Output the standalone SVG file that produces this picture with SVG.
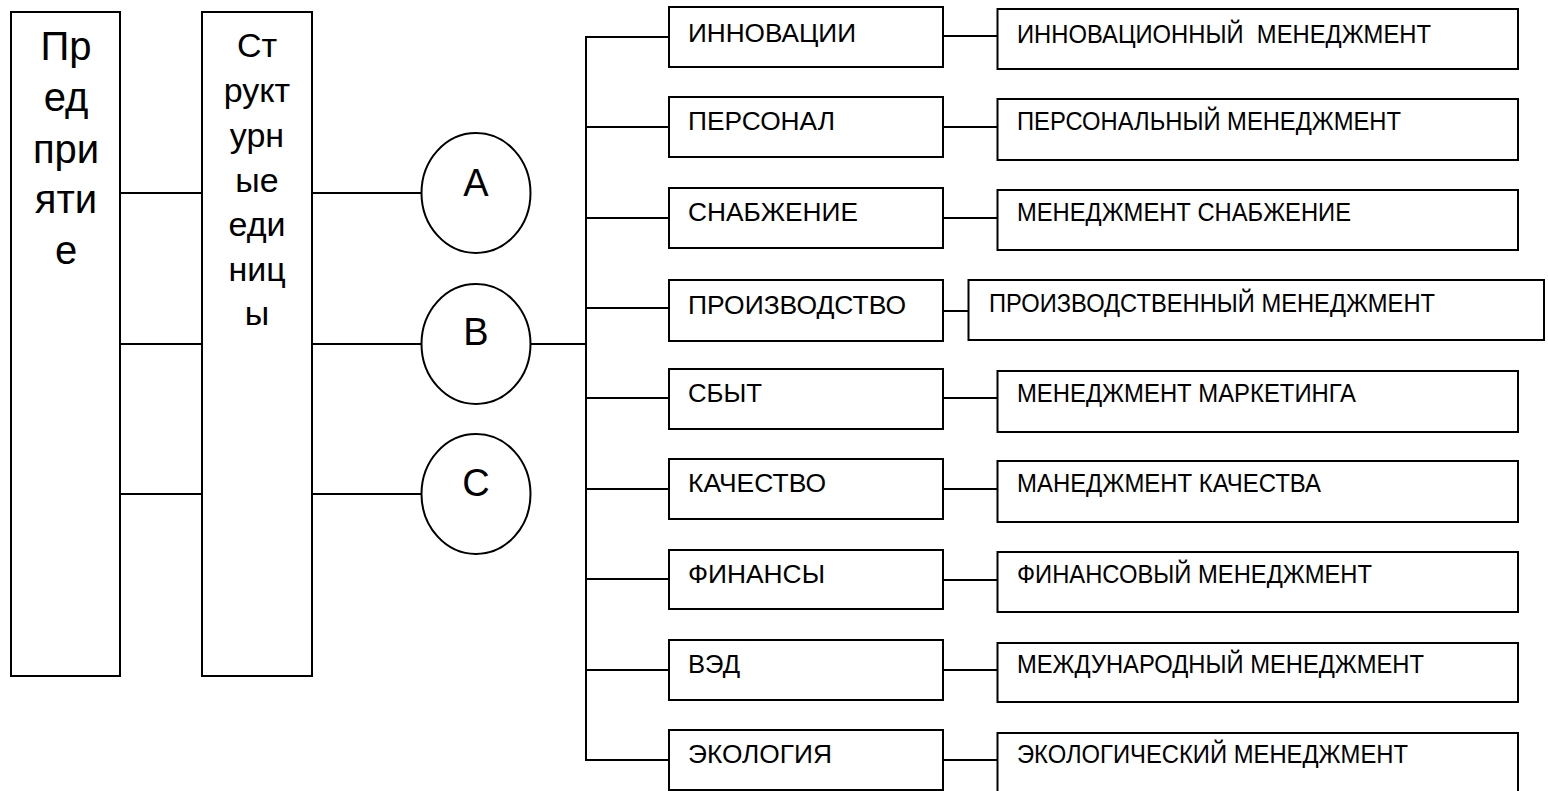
<svg xmlns="http://www.w3.org/2000/svg" width="1548" height="791" viewBox="0 0 1548 791">
  <style>
    .box { fill: #ffffff; stroke: #000000; stroke-width: 2; }
    .ell { fill: #ffffff; stroke: #000000; stroke-width: 2; }
    .ln { stroke: #000000; stroke-width: 2; fill: none; }
    .t { font-family: "Liberation Sans", Arial, sans-serif; fill: #000000; }
    .big { font-size: 40px; text-anchor: middle; }
    .mid { font-size: 34px; text-anchor: middle; }
    .circ { font-size: 38px; text-anchor: middle; }
    .lab { font-size: 26px; }
    .lab2 { font-size: 25px; }
  </style>
  <rect width="1548" height="791" fill="#ffffff"/>

  <!-- connectors -->
  <g id="connectors">
    <line class="ln" x1="120" y1="193" x2="202" y2="193"/>
    <line class="ln" x1="120" y1="344" x2="202" y2="344"/>
    <line class="ln" x1="120" y1="494" x2="202" y2="494"/>
    <line class="ln" x1="312" y1="193" x2="422" y2="193"/>
    <line class="ln" x1="312" y1="344" x2="422" y2="344"/>
    <line class="ln" x1="312" y1="494" x2="422" y2="494"/>
    <line class="ln" x1="531" y1="344" x2="586" y2="344"/>
    <!-- trunk -->
    <line class="ln" x1="586" y1="36" x2="586" y2="761"/>
    <!-- branches to functions -->
    <line class="ln" x1="585" y1="37" x2="669" y2="37"/>
    <line class="ln" x1="585" y1="127" x2="669" y2="127"/>
    <line class="ln" x1="585" y1="218" x2="669" y2="218"/>
    <line class="ln" x1="585" y1="308" x2="669" y2="308"/>
    <line class="ln" x1="585" y1="398" x2="669" y2="398"/>
    <line class="ln" x1="585" y1="489" x2="669" y2="489"/>
    <line class="ln" x1="585" y1="579" x2="669" y2="579"/>
    <line class="ln" x1="585" y1="670" x2="669" y2="670"/>
    <line class="ln" x1="585" y1="760" x2="669" y2="760"/>
    <!-- function to management type -->
    <line class="ln" x1="943" y1="36" x2="997" y2="36"/>
    <line class="ln" x1="943" y1="127" x2="997" y2="127"/>
    <line class="ln" x1="943" y1="218" x2="997" y2="218"/>
    <line class="ln" x1="943" y1="311" x2="968" y2="311"/>
    <line class="ln" x1="943" y1="398" x2="997" y2="398"/>
    <line class="ln" x1="943" y1="489" x2="997" y2="489"/>
    <line class="ln" x1="943" y1="580" x2="997" y2="580"/>
    <line class="ln" x1="943" y1="670" x2="997" y2="670"/>
    <line class="ln" x1="943" y1="760" x2="997" y2="760"/>
  </g>

  <!-- enterprise -->
  <g id="node-enterprise">
    <rect class="box" x="11" y="12" width="109" height="664"/>
    <text class="t big" x="66" y="60">Пр</text>
    <text class="t big" x="66" y="111">ед</text>
    <text class="t big" x="66" y="163">при</text>
    <text class="t big" x="66" y="213">яти</text>
    <text class="t big" x="66" y="264">е</text>
  </g>

  <!-- structural units -->
  <g id="node-units">
    <rect class="box" x="202" y="12" width="110" height="664"/>
    <text class="t mid" x="257" y="57">Ст</text>
    <text class="t mid" x="257" y="102">рукт</text>
    <text class="t mid" x="257" y="147">урн</text>
    <text class="t mid" x="257" y="192">ые</text>
    <text class="t mid" x="257" y="236">еди</text>
    <text class="t mid" x="257" y="281">ниц</text>
    <text class="t mid" x="257" y="325">ы</text>
  </g>

  <!-- units A, B, C -->
  <g id="node-a">
    <ellipse class="ell" cx="476" cy="193" rx="54.5" ry="60"/>
    <text class="t circ" x="476" y="196">A</text>
  </g>
  <g id="node-b">
    <ellipse class="ell" cx="476" cy="344" rx="54.5" ry="60"/>
    <text class="t circ" x="476" y="345">B</text>
  </g>
  <g id="node-c">
    <ellipse class="ell" cx="476" cy="494" rx="54.5" ry="60"/>
    <text class="t circ" x="476" y="496">C</text>
  </g>

  <!-- functions -->
  <g id="node-innovation">
    <rect class="box" x="669" y="7" width="274" height="60"/>
    <text class="t lab" x="688" y="42" textLength="168" lengthAdjust="spacingAndGlyphs">ИННОВАЦИИ</text>
  </g>
  <g id="node-personnel">
    <rect class="box" x="669" y="97" width="274" height="60"/>
    <text class="t lab" x="688" y="130" textLength="147" lengthAdjust="spacingAndGlyphs">ПЕРСОНАЛ</text>
  </g>
  <g id="node-supply">
    <rect class="box" x="669" y="188" width="274" height="60"/>
    <text class="t lab" x="688" y="221" textLength="170" lengthAdjust="spacingAndGlyphs">СНАБЖЕНИЕ</text>
  </g>
  <g id="node-production">
    <rect class="box" x="669" y="280" width="274" height="61"/>
    <text class="t lab" x="688" y="314" textLength="218" lengthAdjust="spacingAndGlyphs">ПРОИЗВОДСТВО</text>
  </g>
  <g id="node-sales">
    <rect class="box" x="669" y="369" width="274" height="60"/>
    <text class="t lab" x="688" y="402" textLength="74" lengthAdjust="spacingAndGlyphs">СБЫТ</text>
  </g>
  <g id="node-quality">
    <rect class="box" x="669" y="459" width="274" height="60"/>
    <text class="t lab" x="688" y="492" textLength="138" lengthAdjust="spacingAndGlyphs">КАЧЕСТВО</text>
  </g>
  <g id="node-finance">
    <rect class="box" x="669" y="550" width="274" height="59"/>
    <text class="t lab" x="688" y="583" textLength="137" lengthAdjust="spacingAndGlyphs">ФИНАНСЫ</text>
  </g>
  <g id="node-fea">
    <rect class="box" x="669" y="640" width="274" height="60"/>
    <text class="t lab" x="688" y="673" textLength="52" lengthAdjust="spacingAndGlyphs">ВЭД</text>
  </g>
  <g id="node-ecology">
    <rect class="box" x="669" y="730" width="274" height="60"/>
    <text class="t lab" x="688" y="763" textLength="144" lengthAdjust="spacingAndGlyphs">ЭКОЛОГИЯ</text>
  </g>

  <!-- management types -->
  <g id="node-innovation-mgmt">
    <rect class="box" x="997.5" y="9" width="520.5" height="60"/>
    <text class="t lab2" x="1017" y="43" textLength="414" lengthAdjust="spacingAndGlyphs" xml:space="preserve">ИННОВАЦИОННЫЙ  МЕНЕДЖМЕНТ</text>
  </g>
  <g id="node-personnel-mgmt">
    <rect class="box" x="997.5" y="99" width="520.5" height="61"/>
    <text class="t lab2" x="1017" y="130" textLength="384" lengthAdjust="spacingAndGlyphs">ПЕРСОНАЛЬНЫЙ МЕНЕДЖМЕНТ</text>
  </g>
  <g id="node-supply-mgmt">
    <rect class="box" x="997.5" y="190" width="520.5" height="60"/>
    <text class="t lab2" x="1017" y="221" textLength="334" lengthAdjust="spacingAndGlyphs">МЕНЕДЖМЕНТ СНАБЖЕНИЕ</text>
  </g>
  <g id="node-production-mgmt">
    <rect class="box" x="968.5" y="280" width="575.5" height="60"/>
    <text class="t lab2" x="989" y="312" textLength="446" lengthAdjust="spacingAndGlyphs">ПРОИЗВОДСТВЕННЫЙ МЕНЕДЖМЕНТ</text>
  </g>
  <g id="node-marketing-mgmt">
    <rect class="box" x="997.5" y="371" width="520.5" height="61"/>
    <text class="t lab2" x="1017" y="402" textLength="339" lengthAdjust="spacingAndGlyphs">МЕНЕДЖМЕНТ МАРКЕТИНГА</text>
  </g>
  <g id="node-quality-mgmt">
    <rect class="box" x="997.5" y="461" width="520.5" height="61"/>
    <text class="t lab2" x="1017" y="492" textLength="304" lengthAdjust="spacingAndGlyphs">МАНЕДЖМЕНТ КАЧЕСТВА</text>
  </g>
  <g id="node-finance-mgmt">
    <rect class="box" x="997.5" y="552" width="520.5" height="60"/>
    <text class="t lab2" x="1017" y="583" textLength="355" lengthAdjust="spacingAndGlyphs">ФИНАНСОВЫЙ МЕНЕДЖМЕНТ</text>
  </g>
  <g id="node-international-mgmt">
    <rect class="box" x="997.5" y="643" width="520.5" height="59"/>
    <text class="t lab2" x="1017" y="673" textLength="407" lengthAdjust="spacingAndGlyphs">МЕЖДУНАРОДНЫЙ МЕНЕДЖМЕНТ</text>
  </g>
  <g id="node-ecology-mgmt">
    <rect class="box" x="997.5" y="733" width="520.5" height="60"/>
    <text class="t lab2" x="1017" y="763" textLength="391" lengthAdjust="spacingAndGlyphs">ЭКОЛОГИЧЕСКИЙ МЕНЕДЖМЕНТ</text>
  </g>
</svg>
